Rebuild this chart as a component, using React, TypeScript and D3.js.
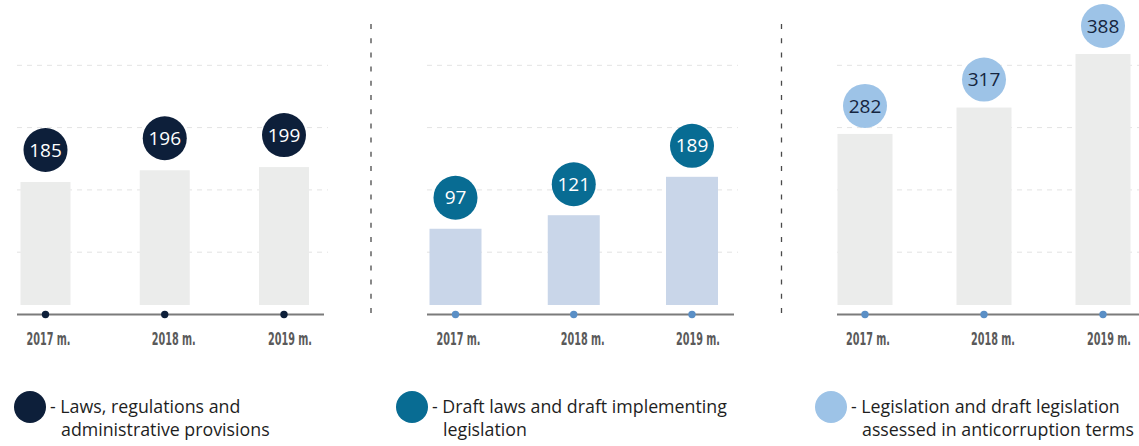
import React from "react";
import * as d3 from "d3";

const years = ["2017 m.", "2018 m.", "2019 m."];
const lawsValues = [185, 196, 199];
const draftValues = [97, 121, 189];
const assessedValues = [282, 317, 388];
const legendLines = [
  ["- Laws, regulations and", "administrative provisions"],
  ["- Draft laws and draft implementing", "legislation"],
  ["- Legislation and draft legislation", "assessed in anticorruption terms"],
];

const W = 1139;
const H = 446;
const BAR_BOTTOM = 305;
const BASELINE = 314.5;
const GRID_STEP = 62.3;

const panels = [
  {
    values: lawsValues,
    centers: [45.5, 284],
    lineX: [17, 324],
    gridX: [17, 328],
    domain: [70, 200],
    top: 166,
    barW: 50,
    barFill: "#ebeceb",
    circle: "#0d1f3a",
    circleText: "#ffffff",
    dot: "#0d1f3a",
    circleGap: 32,
  },
  {
    values: draftValues,
    centers: [455.5, 692],
    lineX: [427, 734],
    gridX: [427, 738],
    domain: [-38, 200],
    top: 170.6,
    barW: 52,
    barFill: "#c9d6e9",
    circle: "#086c93",
    circleText: "#ffffff",
    dot: "#5a8fc6",
    circleGap: 31,
  },
  {
    values: assessedValues,
    centers: [865, 1103],
    lineX: [837, 1139],
    gridX: [837, 1139],
    domain: [55, 400],
    top: 45,
    barW: 55,
    barFill: "#ebeceb",
    circle: "#9dc3e7",
    circleText: "#152540",
    dot: "#5a8fc6",
    circleGap: 28,
  },
];

const separators = [371, 781.5];
const legendX = [30, 412, 831];
const labelDx = [3, 9, 6];

export default function App() {
  return (
    <svg width={W} height={H} style={{ display: "block", position: "absolute", left: 0, top: 0 }}>
      <rect width={W} height={H} fill="#ffffff" />
      {separators.map((x, i) => (
        <line key={"sep" + i} x1={x} x2={x} y1={24} y2={315} stroke="#4a4a4a" strokeWidth={1.3} strokeDasharray="5,9.2" />
      ))}
      {panels.map((p, pi) => {
        const x = d3.scalePoint<string>().domain(years).range(p.centers as [number, number]);
        const y = d3.scaleLinear().domain(p.domain).range([BAR_BOTTOM, p.top]);
        const grid = d3.range(1, 5).map((k) => BASELINE - k * GRID_STEP);
        return (
          <g key={"p" + pi}>
            {grid.map((gy, gi) => (
              <line key={gi} x1={p.gridX[0]} x2={p.gridX[1]} y1={gy} y2={gy} stroke="#e3e3e3" strokeWidth={1} strokeDasharray="5,5" />
            ))}
            {p.values.map((v, i) => {
              const cx = x(years[i])!;
              return (
                <rect key={"b" + i} x={cx - p.barW / 2} y={y(v)} width={p.barW} height={BAR_BOTTOM - y(v)} fill={p.barFill} />
              );
            })}
            <line x1={p.lineX[0]} x2={p.lineX[1]} y1={BASELINE} y2={BASELINE} stroke="#7b7b7b" strokeWidth={2} />
            {years.map((yr, i) => (
              <g key={"d" + i}>
                <circle cx={x(yr)!} cy={BASELINE} r={3.7} fill={p.dot} />
                <text
                  x={x(yr)! + labelDx[i]}
                  y={345}
                  textAnchor="middle"
                  fontFamily="'DejaVu Sans Condensed', 'DejaVu Sans', sans-serif"
                  fontWeight="bold"
                  fontSize={17}
                  fill="#5a5a5a"
                  textLength={44}
                  lengthAdjust="spacingAndGlyphs"
                >
                  {yr}
                </text>
              </g>
            ))}
            {p.values.map((v, i) => {
              const cx = x(years[i])!;
              const cy = y(v) - p.circleGap;
              return (
                <g key={"c" + i}>
                  <circle cx={cx} cy={cy} r={22} fill={p.circle} />
                  <text x={cx} y={cy} dy="0.35em" textAnchor="middle" fontFamily="'Open Sans', sans-serif" fontSize={19} fill={p.circleText}>
                    {v}
                  </text>
                </g>
              );
            })}
          </g>
        );
      })}
      {legendLines.map((lines, i) => (
        <g key={"l" + i}>
          <circle cx={legendX[i]} cy={407} r={16} fill={panels[i].circle} />
          <text x={legendX[i] + 20} y={413} fontFamily="'Open Sans', sans-serif" fontSize={17.8} fill="#1e1e1e">
            {lines[0]}
          </text>
          <text x={legendX[i] + 31} y={436} fontFamily="'Open Sans', sans-serif" fontSize={17.8} fill="#1e1e1e">
            {lines[1]}
          </text>
        </g>
      ))}
    </svg>
  );
}
